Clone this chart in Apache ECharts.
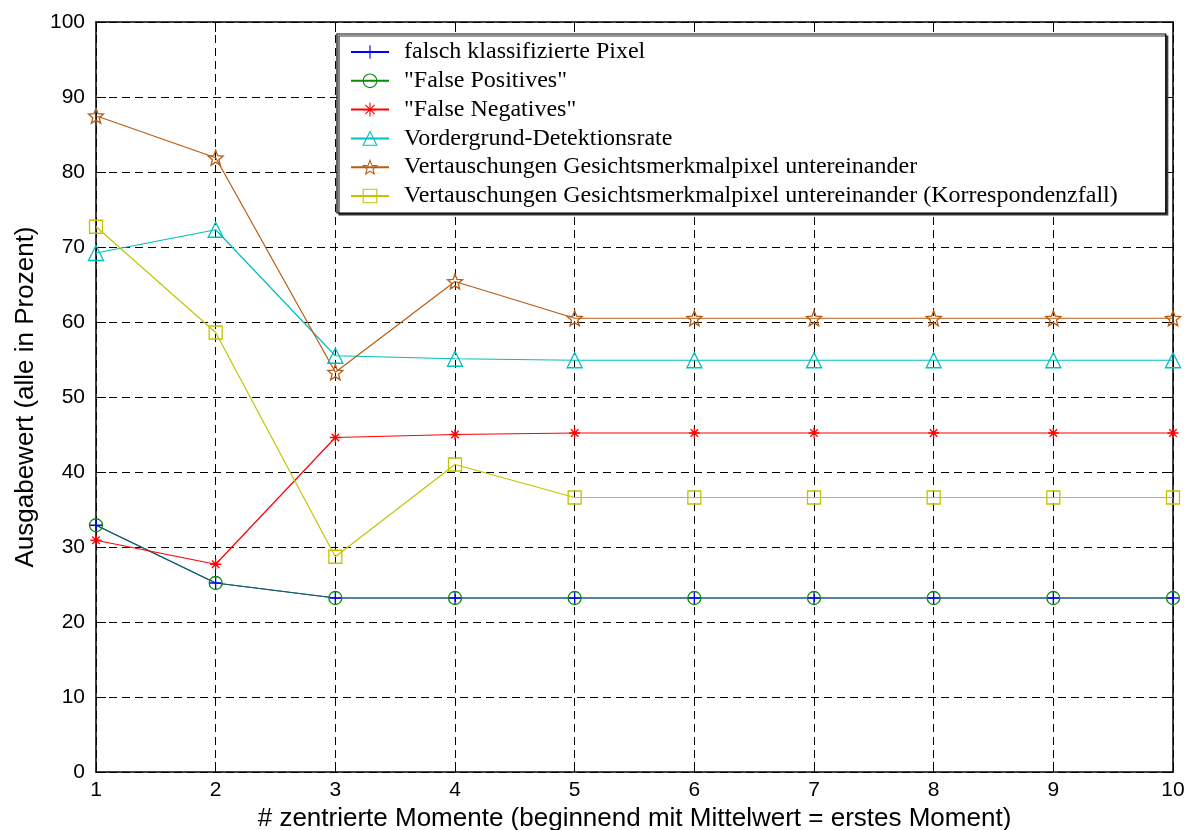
<!DOCTYPE html>
<html>
<head>
<meta charset="utf-8">
<script src="https://cdn.jsdelivr.net/npm/echarts@6/dist/echarts.min.js"></script>
<style>
  html, body { margin: 0; padding: 0; background: #fff; overflow: hidden; }
  #chart { width: 1193px; height: 830px; }
</style>
</head>
<body>
<div id="chart"></div>
<script>
// Number of centred moments used (x axis)
const momente = [1, 2, 3, 4, 5, 6, 7, 8, 9, 10];

// Output values in percent
const falschKlassifiziert = [32.9, 25.2, 23.2, 23.2, 23.2, 23.2, 23.2, 23.2, 23.2, 23.2];
const falsePositives      = [32.9, 25.2, 23.2, 23.2, 23.2, 23.2, 23.2, 23.2, 23.2, 23.2];
const falseNegatives      = [30.9, 27.7, 44.6, 45.0, 45.2, 45.2, 45.2, 45.2, 45.2, 45.2];
const detektionsrate      = [69.2, 72.3, 55.5, 55.1, 54.9, 54.9, 54.9, 54.9, 54.9, 54.9];
const vertauschungen      = [87.5, 81.9, 53.3, 65.4, 60.5, 60.5, 60.5, 60.5, 60.5, 60.5];
const korrespondenzfall   = [72.7, 58.6, 28.7, 41.0, 36.6, 36.6, 36.6, 36.6, 36.6, 36.6];

const seriesNames = [
  'falsch klassifizierte Pixel',
  '"False Positives"',
  '"False Negatives"',
  'Vordergrund-Detektionsrate',
  'Vertauschungen Gesichtsmerkmalpixel untereinander',
  'Vertauschungen Gesichtsmerkmalpixel untereinander (Korrespondenzfall)'
];

const yTicks = [0, 10, 20, 30, 40, 50, 60, 70, 80, 90, 100];

// Marker outlines
const plusPath = 'path://M5,0L5,10M0,5L10,5';
const asteriskPath = 'path://M5,0L5,10M0,5L10,5M1.6,1.6L8.4,8.4M1.6,8.4L8.4,1.6';
function pentagramPath() {
  let d = '';
  for (let k = 0; k < 10; k++) {
    const r = k % 2 === 0 ? 10 : 4.3;
    const a = (-90 + 36 * k) * Math.PI / 180;
    d += (k === 0 ? 'M' : 'L') + (10 + r * Math.cos(a)).toFixed(2) + ',' + (10 + r * Math.sin(a)).toFixed(2);
  }
  return 'path://' + d + 'Z';
}
const starPath = pentagramPath();

function pairs(values) {
  return momente.map((m, i) => [m, values[i]]);
}

function lineSeries(name, values, color, symbol, size, lineOpacity) {
  return {
    name: name,
    type: 'line',
    data: pairs(values),
    symbol: symbol,
    symbolSize: size,
    showAllSymbol: true,
    animation: false,
    lineStyle: { color: color, width: 1.2, opacity: lineOpacity },
    itemStyle: { color: 'none', borderColor: color, borderWidth: 1.3 },
    emphasis: { disabled: true },
    z: 3
  };
}

const colors = ['#0000ff', '#0d8a0d', '#ff0000', '#00bfbf', '#b85c12', '#c4c400'];

const chart = echarts.init(document.getElementById('chart'), null, { renderer: 'canvas' });

const sansFont = '"Liberation Sans", Arial, sans-serif';
const tickFont = { fontFamily: sansFont, fontSize: 21, color: '#000' };

chart.setOption({
  backgroundColor: '#fff',
  animation: false,
  grid: { left: 96, top: 22, width: 1077, height: 750, containLabel: false, outerBoundsMode: 'none' },
  legend: {
    left: 337,
    top: 34,
    orient: 'vertical',
    itemWidth: 38,
    itemHeight: 17,
    itemGap: 4.8,
    padding: [6, 48, 5, 13],
    backgroundColor: '#fff',
    borderColor: '#000',
    borderWidth: 1.2,
    borderRadius: 0,
    shadowColor: '#333',
    shadowOffsetX: 2,
    shadowOffsetY: 2,
    shadowBlur: 0,
    selectedMode: false,
    textStyle: {
      fontFamily: '"Liberation Serif", "Times New Roman", serif',
      fontSize: 24,
      color: '#000',
      padding: [0, 0, 0, 10]
    },
    data: seriesNames.map((n, i) => ({
      name: n,
      lineStyle: { opacity: 1, color: colors[i] },
      itemStyle: { color: 'none', borderColor: colors[i], borderWidth: 1.1 }
    }))
  },
  xAxis: [
    {
      type: 'value',
      min: 1,
      max: 10,
      interval: 1,
      position: 'bottom',
      name: '# zentrierte Momente (beginnend mit Mittelwert = erstes Moment)',
      nameLocation: 'middle',
      nameGap: 33,
      nameTextStyle: { fontFamily: sansFont, fontSize: 26, color: '#000' },
      axisLine: { show: true, lineStyle: { color: '#000', width: 1.5 } },
      axisTick: { show: true, inside: true, length: 10, lineStyle: { color: '#000', width: 1 } },
      axisLabel: Object.assign({ margin: 8 }, tickFont),
      splitLine: { show: true, lineStyle: { color: '#000', width: 1, type: [8, 5] } }
    },
    {
      type: 'value',
      min: 1,
      max: 10,
      interval: 1,
      position: 'top',
      axisLine: { show: true, onZero: false, lineStyle: { color: '#000', width: 1.5 } },
      axisTick: { show: true, inside: true, length: 10, lineStyle: { color: '#000', width: 1 } },
      axisLabel: { show: false },
      splitLine: { show: false }
    }
  ],
  yAxis: [
    {
      type: 'value',
      min: 0,
      max: 100,
      interval: 10,
      position: 'left',
      name: 'Ausgabewert (alle in Prozent)',
      nameLocation: 'middle',
      nameGap: 57,
      nameRotate: 90,
      nameTextStyle: { fontFamily: sansFont, fontSize: 26, color: '#000' },
      axisLine: { show: true, lineStyle: { color: '#000', width: 1.5 } },
      axisTick: { show: true, inside: true, length: 10, lineStyle: { color: '#000', width: 1 } },
      axisLabel: Object.assign({
        margin: 11,
        formatter: v => (yTicks.indexOf(v) >= 0 ? String(v) : '')
      }, tickFont),
      splitLine: { show: true, lineStyle: { color: '#000', width: 1, type: [8, 5] } }
    },
    {
      type: 'value',
      min: 0,
      max: 100,
      interval: 10,
      position: 'right',
      axisLine: { show: true, onZero: false, lineStyle: { color: '#000', width: 1.5 } },
      axisTick: { show: true, inside: true, length: 10, lineStyle: { color: '#000', width: 1 } },
      axisLabel: { show: false },
      splitLine: { show: false }
    }
  ],
  series: [
    lineSeries(seriesNames[0], falschKlassifiziert, colors[0], plusPath, 12, 1),
    lineSeries(seriesNames[1], falsePositives, colors[1], 'circle', 13, 0.75),
    lineSeries(seriesNames[2], falseNegatives, colors[2], asteriskPath, 11, 1),
    lineSeries(seriesNames[3], detektionsrate, colors[3], 'triangle', 15, 1),
    lineSeries(seriesNames[4], vertauschungen, colors[4], starPath, 15, 1),
    lineSeries(seriesNames[5], korrespondenzfall, colors[5], 'rect', 13, 1)
  ]
});
</script>
</body>
</html>
